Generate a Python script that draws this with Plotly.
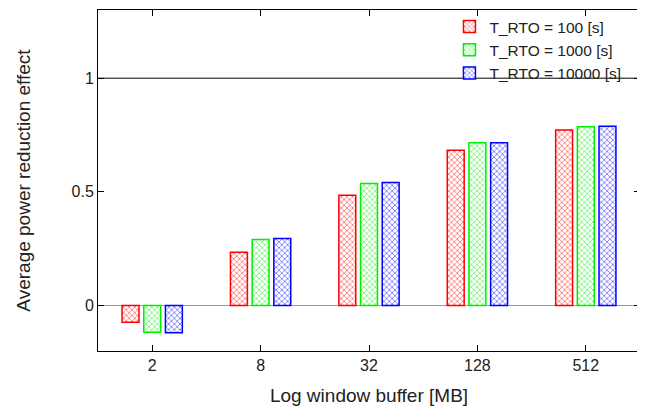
import plotly.graph_objects as go

categories = ["2", "8", "32", "128", "512"]
series_names = ["T_RTO = 100 [s]", "T_RTO = 1000 [s]", "T_RTO = 10000 [s]"]
vals_100 = [-0.074, 0.234, 0.485, 0.683, 0.772]
vals_1000 = [-0.117, 0.290, 0.537, 0.716, 0.786]
vals_10000 = [-0.120, 0.295, 0.541, 0.716, 0.789]
colors = ["#ff0000", "#00ee00", "#0000ff"]

fig = go.Figure()
for name, vals, c in zip(series_names, [vals_100, vals_1000, vals_10000], colors):
    fig.add_trace(go.Bar(
        x=categories, y=vals, name=name,
        marker=dict(color="white", line=dict(color=c, width=1.5),
                    pattern=dict(shape="x", fgcolor=c, bgcolor="white", size=4, solidity=0.4)),
    ))

fig.add_shape(type="line", xref="paper", x0=0, x1=1, yref="y", y0=1, y1=1,
              line=dict(color="black", width=1))

axis_font = dict(family="Liberation Sans, Arial, sans-serif", size=16, color="#222")
fig.update_layout(
    width=645, height=409,
    margin=dict(l=90, r=13, t=2, b=66),
    plot_bgcolor="white", paper_bgcolor="white",
    barmode="group", bargap=0.4, bargroupgap=0.22,
    font=axis_font,
    showlegend=True,
    legend=dict(x=0.975, xanchor="right", y=1.0, yanchor="top", bgcolor="rgba(0,0,0,0)",
                font=dict(size=15.5), tracegroupgap=0),
    xaxis=dict(title=dict(text="Log window buffer [MB]", standoff=15), range=[-0.5, 4.5],
               automargin=False,
               showline=True, linecolor="black", linewidth=1, mirror="ticks",
               ticks="inside", ticklen=6, tickcolor="black", showgrid=False),
    yaxis=dict(title=dict(text="Average power reduction effect", standoff=35), range=[-0.2, 1.3],
               automargin=False,
               tickvals=[0, 0.5, 1], ticktext=["0", "0.5", "1"],
               showline=True, linecolor="black", linewidth=1, mirror="ticks",
               ticks="inside", ticklen=6, tickcolor="black", showgrid=False,
               zeroline=True, zerolinecolor="#999999", zerolinewidth=1),
)

fig.write_html("out.html")
